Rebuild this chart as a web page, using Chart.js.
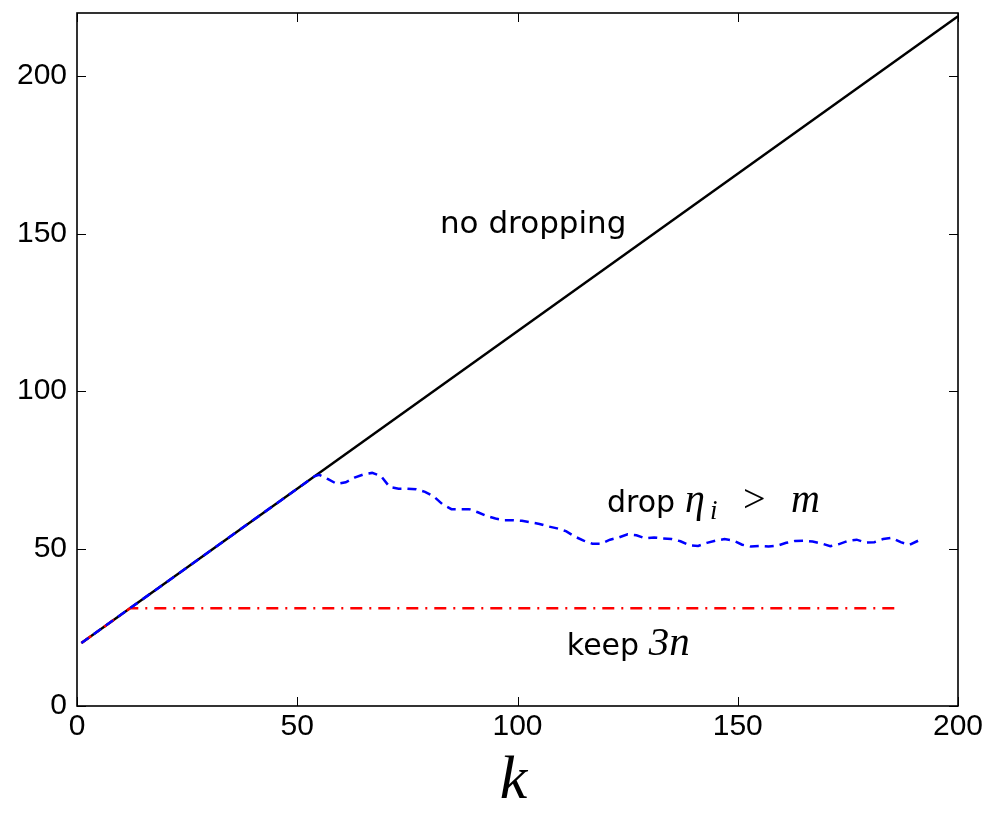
<!DOCTYPE html>
<html>
<head>
<meta charset="utf-8">
<script src="https://cdn.jsdelivr.net/npm/chart.js@4.4.1/dist/chart.umd.min.js"></script>
<style>
html,body{margin:0;padding:0;background:#fff;}
#wrap{width:991px;height:822px;position:relative;}
</style>
</head>
<body>
<div id="wrap"><canvas id="c" width="991" height="822"></canvas></div>
<script>
// ---- data ----
const xTicks = [0, 50, 100, 150, 200];
const yTicks = [0, 50, 100, 150, 200];

const noDropK = [1, 200];
const noDropY = [20, 219];

const keep3nK = [1, 12, 187];
const keep3nY = [20, 31, 31];

const dropK = [1, 54, 55, 57, 59, 61, 63, 65, 67, 69, 71, 73, 75, 77, 79, 81, 83, 85, 87, 89, 91, 93, 95, 97, 99, 101, 103, 105, 107, 109, 111, 113, 115, 117, 119, 121, 123, 125, 127, 129, 131, 133, 135, 137, 139, 141, 143, 145, 147, 149, 151, 153, 155, 157, 159, 161, 163, 165, 167, 169, 171, 173, 175, 177, 179, 181, 183, 185, 187, 189, 191, 192];
const dropY = [20, 73, 73.4, 72, 70.5, 71, 72.5, 73.5, 74, 73, 69.5, 69, 69, 68.8, 68, 66.5, 64, 62.5, 62.5, 62.5, 61.5, 60.3, 59.5, 59, 59, 58.8, 58.3, 57.8, 57, 56.4, 55.5, 53.8, 52.5, 51.5, 51.5, 52.8, 53.5, 54.5, 54.2, 53.2, 53.5, 53.2, 53, 52.3, 51, 50.8, 51.8, 52.5, 53, 52.5, 51.2, 50.6, 50.8, 50.6, 50.9, 51.8, 52.4, 52.5, 52.2, 51.6, 50.7, 51.4, 52.4, 52.8, 51.9, 52, 53, 53.4, 52, 51.2, 52.5, 53];

const xy = (ks, ys) => ks.map((k, i) => ({x: k, y: ys[i]}));

// ---- annotations (anchor in data coords: left x, baseline y; dx = offset of each piece) ----
const SANS = '"DejaVu Sans", "Open Sans", sans-serif';
const SERIF = '"Liberation Serif", "DejaVu Serif", serif';
const annotations = [
  {k: 82.4, v: 150.2, parts: [{t: 'no dropping', f: '31px ' + SANS, dx: 0}]},
  {k: 120.3, v: 61.6, parts: [
    {t: 'drop', f: '30px ' + SANS, dx: 0},
    {t: 'η', f: 'italic 40px ' + SERIF, dx: 78},
    {t: 'i', f: 'italic 27px ' + SERIF, dx: 103, dy: 7},
    {t: '>', f: '40px ' + SERIF, dx: 136},
    {t: 'm', f: 'italic 40px ' + SERIF, dx: 184}
  ]},
  {k: 111.2, v: 16.2, parts: [
    {t: 'keep', f: '30px ' + SANS, dx: 0},
    {t: '3n', f: 'italic 41px ' + SERIF, dx: 82}
  ]}
];

const framePlugin = {
  id: 'frame',
  afterDraw(chart) {
    const ctx = chart.ctx, a = chart.chartArea;
    const xs = chart.scales.x, ys = chart.scales.y;
    ctx.save();
    ctx.strokeStyle = '#000';
    ctx.lineWidth = 1.6;
    ctx.strokeRect(a.left, a.top, a.right - a.left, a.bottom - a.top);
    ctx.lineWidth = 1;
    const tl = 9;
    ctx.beginPath();
    xTicks.forEach(v => {
      const p = Math.round(xs.getPixelForValue(v)) + 0.5;
      ctx.moveTo(p, a.bottom); ctx.lineTo(p, a.bottom - tl);
      ctx.moveTo(p, a.top); ctx.lineTo(p, a.top + tl);
    });
    yTicks.forEach(v => {
      const p = Math.round(ys.getPixelForValue(v)) + 0.5;
      ctx.moveTo(a.left, p); ctx.lineTo(a.left + tl, p);
      ctx.moveTo(a.right, p); ctx.lineTo(a.right - tl, p);
    });
    ctx.stroke();
    // x axis title
    ctx.fillStyle = '#000';
    ctx.font = 'italic 62px ' + SERIF;
    ctx.textAlign = 'center';
    ctx.textBaseline = 'alphabetic';
    ctx.fillText('k', (a.left + a.right) / 2 - 4, a.bottom + 92);
    ctx.restore();
  },
  afterDatasetsDraw(chart) {
    const ctx = chart.ctx;
    const xs = chart.scales.x, ys = chart.scales.y;
    ctx.save();
    ctx.fillStyle = '#000';
    ctx.textAlign = 'left';
    ctx.textBaseline = 'alphabetic';
    annotations.forEach(an => {
      const x0 = xs.getPixelForValue(an.k);
      const y = ys.getPixelForValue(an.v);
      an.parts.forEach(p => {
        ctx.font = p.f;
        ctx.fillText(p.t, x0 + p.dx, y + (p.dy || 0));
      });
    });
    ctx.restore();
  }
};

const tickFont = {family: '"Liberation Sans", Arial, sans-serif', size: 30};

new Chart(document.getElementById('c'), {
  type: 'line',
  data: {
    datasets: [
      {label: 'drop', data: xy(dropK, dropY), borderColor: '#0000ff', borderWidth: 2.5, borderDash: [9, 6], pointRadius: 0, tension: 0, order: 0},
      {label: 'keep 3n', data: xy(keep3nK, keep3nY), borderColor: '#ff0000', borderWidth: 2.5, borderDash: [12, 7, 2, 7], pointRadius: 0, tension: 0, order: 1},
      {label: 'no dropping', data: xy(noDropK, noDropY), borderColor: '#000000', borderWidth: 2.5, pointRadius: 0, tension: 0, order: 2}
    ]
  },
  options: {
    responsive: false,
    animation: false,
    parsing: false,
    layout: {padding: {left: 0, right: 33, top: 13, bottom: 0}},
    plugins: {legend: {display: false}, tooltip: {enabled: false}},
    scales: {
      x: {
        type: 'linear', min: 0, max: 200,
        grid: {display: false, drawTicks: false},
        border: {display: false},
        ticks: {color: '#000', font: tickFont, padding: 3, maxRotation: 0},
        afterBuildTicks: s => { s.ticks = xTicks.map(v => ({value: v})); },
        afterFit: s => { s.height = 116; s.paddingLeft = 0; s.paddingRight = 0; }
      },
      y: {
        type: 'linear', min: 0, max: 220,
        grid: {display: false, drawTicks: false},
        border: {display: false},
        ticks: {color: '#000', font: tickFont, padding: 10},
        afterBuildTicks: s => { s.ticks = yTicks.map(v => ({value: v})); },
        afterFit: s => { s.width = 77; s.paddingTop = 0; s.paddingBottom = 0; }
      }
    }
  },
  plugins: [framePlugin]
});
</script>
</body>
</html>
